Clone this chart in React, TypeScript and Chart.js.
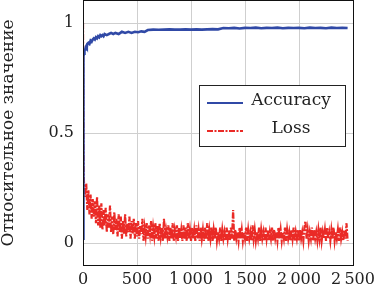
import React, { useEffect, useRef } from "react";
import { Chart, registerables } from "chart.js";
Chart.register(...registerables);

const SERIES_NAMES = ["Accuracy", "Loss"];
const Y_TITLE = "Относительное значение";
const X_TICKS = [0, 500, 1000, 1500, 2000, 2500];
const X_TICK_LABELS = ["0", "500", "1\u2009000", "1\u2009500", "2\u2009000", "2\u2009500"];
const Y_TICKS = [0, 0.5, 1];
const Y_TICK_LABELS = ["0", "0.5", "1"];

const ACC_ITER = [
  0, 1, 2, 3, 4, 5, 6, 8, 10, 12, 15, 20, 25, 30, 35, 40, 50, 60, 70, 80, 90, 100,
  110, 120, 130, 140, 150, 160, 170, 180, 190, 200, 220, 240, 260, 280, 300, 330, 360, 390,
  420, 450, 480, 510, 540, 570, 600, 650, 700, 750, 800, 850, 900, 950, 1000, 1050, 1100,
  1150, 1200, 1250, 1300, 1350, 1400, 1450, 1500, 1550, 1600, 1650, 1700, 1750, 1800, 1850,
  1900, 1950, 2000, 2050, 2100, 2150, 2200, 2250, 2300, 2350, 2400, 2450,
];
const ACC = [
  0.02, 0.3, 0.55, 0.68, 0.76, 0.8, 0.83, 0.85, 0.86, 0.87, 0.875, 0.88, 0.89, 0.895, 0.89, 0.905, 0.91, 0.905, 0.92, 0.915, 0.925, 0.93,
  0.925, 0.935, 0.93, 0.94, 0.935, 0.945, 0.94, 0.945, 0.94, 0.95, 0.945, 0.95, 0.955, 0.95, 0.955, 0.95, 0.96, 0.955,
  0.96, 0.955, 0.96, 0.958, 0.962, 0.96, 0.968, 0.97, 0.969, 0.97, 0.971, 0.97, 0.97, 0.971, 0.97, 0.971, 0.97,
  0.971, 0.972, 0.971, 0.977, 0.976, 0.978, 0.975, 0.978, 0.977, 0.979, 0.976, 0.978, 0.977, 0.979, 0.976,
  0.978, 0.977, 0.978, 0.976, 0.979, 0.977, 0.978, 0.976, 0.979, 0.977, 0.978, 0.977,
];

const LOSS_ITER = [
  0, 2, 4, 6, 8,
  10, 20, 30, 40, 50, 60, 70, 80, 90, 100,
  110, 120, 130, 140, 150, 160, 170, 180, 190, 200,
  210, 220, 230, 240, 250, 260, 270, 280, 290, 300,
  310, 320, 330, 340, 350, 360, 370, 380, 390, 400,
  410, 420, 430, 440, 450, 460, 470, 480, 490, 500,
  510, 520, 530, 540, 550, 560, 570, 580, 590, 600,
  610, 620, 630, 640, 650, 660, 670, 680, 690, 700,
  710, 720, 730, 740, 750, 760, 770, 780, 790, 800,
  810, 820, 830, 840, 850, 860, 870, 880, 890, 900,
  910, 920, 930, 940, 950, 960, 970, 980, 990, 1000,
  1010, 1020, 1030, 1040, 1050, 1060, 1070, 1080, 1090, 1100,
  1110, 1120, 1130, 1140, 1150, 1160, 1170, 1180, 1190, 1200,
  1210, 1220, 1230, 1240, 1250, 1260, 1270, 1280, 1290, 1300,
  1310, 1320, 1330, 1340, 1350, 1360, 1370, 1380, 1390, 1400,
  1410, 1420, 1430, 1440, 1450, 1460, 1470, 1480, 1490, 1500,
  1510, 1520, 1530, 1540, 1550, 1560, 1570, 1580, 1590, 1600,
  1610, 1620, 1630, 1640, 1650, 1660, 1670, 1680, 1690, 1700,
  1710, 1720, 1730, 1740, 1750, 1760, 1770, 1780, 1790, 1800,
  1810, 1820, 1830, 1840, 1850, 1860, 1870, 1880, 1890, 1900,
  1910, 1920, 1930, 1940, 1950, 1960, 1970, 1980, 1990, 2000,
  2010, 2020, 2030, 2040, 2050, 2060, 2070, 2080, 2090, 2100,
  2110, 2120, 2130, 2140, 2150, 2160, 2170, 2180, 2190, 2200,
  2210, 2220, 2230, 2240, 2250, 2260, 2270, 2280, 2290, 2300,
  2310, 2320, 2330, 2340, 2350, 2360, 2370, 2380, 2390, 2400,
  2410, 2420, 2430, 2440, 2450,
];
const LOSS = [
  1.0, 0.72, 0.5, 0.36, 0.29,
  0.26, 0.21, 0.27, 0.15, 0.24, 0.13, 0.22, 0.11, 0.2, 0.12,
  0.19, 0.09, 0.21, 0.08, 0.17, 0.07, 0.18, 0.06, 0.15, 0.08,
  0.16, 0.05, 0.13, 0.07, 0.17, 0.05, 0.12, 0.04, 0.14, 0.06,
  0.11, 0.03, 0.13, 0.05, 0.12, 0.02, 0.1, 0.04, 0.13, 0.03,
  0.09, 0.05, 0.12, 0.02, 0.1, 0.04, 0.11, 0.02, 0.09, 0.03,
  0.1, 0.02, 0.08, 0.04, 0.11, 0.01, 0.07, 0.03, 0.09, 0.02,
  0.08, 0.04, 0.1, 0.01, 0.07, 0.03, 0.09, 0.02, 0.08, 0.01,
  0.09, 0.03, 0.07, 0.01, 0.11, 0.02, 0.06, 0.03, 0.08, 0.01,
  0.07, 0.02, 0.09, 0.01, 0.06, 0.03, 0.08, 0.01, 0.07, 0.02,
  0.06, 0.01, 0.08, 0.02, 0.07, 0.01, 0.09, 0.02, 0.06, 0.01,
  0.07, 0.02, 0.06, 0.01, 0.08, 0.02, 0.06, 0.01, 0.07, 0.02,
  0.06, 0.01, 0.07, 0.02, 0.09, 0.01, 0.06, 0.02, 0.07, 0.01,
  0.06, 0.02, 0.07, 0.01, 0.05, 0.02, 0.07, 0.01, 0.06, 0.02,
  0.05, 0.01, 0.07, 0.02, 0.06, 0.01, 0.07, 0.02, 0.15, 0.01,
  0.06, 0.02, 0.05, 0.01, 0.07, 0.02, 0.06, 0.01, 0.05, 0.02,
  0.07, 0.01, 0.06, 0.02, 0.05, 0.01, 0.08, 0.02, 0.06, 0.01,
  0.05, 0.02, 0.07, 0.01, 0.06, 0.02, 0.05, 0.01, 0.07, 0.02,
  0.06, 0.01, 0.05, 0.02, 0.07, 0.01, 0.06, 0.02, 0.05, 0.01,
  0.07, 0.02, 0.06, 0.01, 0.05, 0.02, 0.07, 0.01, 0.06, 0.02,
  0.05, 0.01, 0.06, 0.02, 0.07, 0.01, 0.05, 0.02, 0.06, 0.01,
  0.06, 0.02, 0.05, 0.01, 0.07, 0.1, 0.02, 0.06, 0.01, 0.05,
  0.02, 0.07, 0.01, 0.06, 0.02, 0.05, 0.01, 0.06, 0.02, 0.07,
  0.01, 0.05, 0.02, 0.06, 0.01, 0.07, 0.02, 0.05, 0.01, 0.06,
  0.02, 0.07, 0.01, 0.05, 0.02, 0.06, 0.01, 0.07, 0.02, 0.05,
  0.01, 0.06, 0.02, 0.09, 0.01,
];

const BLUE = "#3049a6";
const RED = "#ea2a26";
const FONT = '"DejaVu Serif", serif';

const framePlugin = {
  id: "frame",
  afterDatasetsDraw(chart: any) {
    const { ctx, chartArea: a } = chart;
    ctx.save();
    ctx.strokeStyle = "#111";
    ctx.lineWidth = 1;
    ctx.strokeRect(Math.round(a.left) + 0.5, Math.round(a.top) - 0.5, Math.round(a.right - a.left), Math.round(a.bottom - a.top) + 1);
    ctx.restore();
  },
};

const legendPlugin = {
  id: "innerLegend",
  afterDraw(chart: any) {
    const { ctx } = chart;
    const x0 = 199, y0 = 85, w = 146, h = 61;
    const rows = [103, 131];
    ctx.save();
    ctx.fillStyle = "#fff";
    ctx.fillRect(x0, y0, w, h);
    ctx.strokeStyle = "#222";
    ctx.lineWidth = 1;
    ctx.strokeRect(x0 + 0.5, y0 + 0.5, w, h);
    chart.data.datasets.forEach((ds: any, i: number) => {
      const y = rows[i];
      ctx.beginPath();
      ctx.setLineDash(ds.borderDash || []);
      ctx.strokeStyle = ds.borderColor;
      ctx.lineWidth = i === 0 ? 2 : 1.8;
      ctx.moveTo(207, y);
      ctx.lineTo(243, y);
      ctx.stroke();
      ctx.setLineDash([]);
      ctx.fillStyle = "#222";
      ctx.font = `17px ${FONT}`;
      ctx.textAlign = "center";
      ctx.textBaseline = "middle";
      ctx.fillText(ds.label, 291, y - 2);
    });
    ctx.restore();
  },
};

export default function App() {
  const ref = useRef<HTMLCanvasElement>(null);
  useEffect(() => {
    if (!ref.current) return;
    const chart = new Chart(ref.current, {
      type: "line",
      data: {
        datasets: [
          {
            label: SERIES_NAMES[0],
            data: ACC_ITER.map((x, i) => ({ x, y: ACC[i] })),
            borderColor: BLUE,
            borderWidth: 2.6,
            pointRadius: 0,
            tension: 0,
            fill: false,
          },
          {
            label: SERIES_NAMES[1],
            data: LOSS_ITER.map((x, i) => ({ x, y: LOSS[i] })),
            borderColor: RED,
            borderWidth: 2.2,
            borderDash: [6, 1.5, 2, 1.5],
            pointRadius: 0,
            tension: 0,
            fill: false,
          },
        ],
      },
      options: {
        animation: false,
        responsive: false,
        devicePixelRatio: 1,
        layout: { padding: { left: 0, top: 1, right: 23, bottom: 0 } },
        plugins: { legend: { display: false }, tooltip: { enabled: false } },
        scales: {
          x: {
            type: "linear",
            min: 0,
            max: 2500,
            afterBuildTicks: (s: any) => {
              s.ticks = X_TICKS.map((v) => ({ value: v }));
            },
            afterFit: (s: any) => {
              s.height = 23;
              s.paddingLeft = 0;
              s.paddingRight = 0;
            },
            ticks: {
              autoSkip: false,
              maxRotation: 0,
              padding: 5,
              color: "#222",
              font: { family: FONT, size: 16 },
              callback: (v: any) => {
                const i = X_TICKS.indexOf(Number(v));
                return i >= 0 ? X_TICK_LABELS[i] : "";
              },
            },
            grid: { color: "#cfcfcf", lineWidth: 1, drawTicks: false },
            border: { display: false },
          },
          y: {
            type: "linear",
            min: -0.1,
            max: 1.1,
            afterBuildTicks: (s: any) => {
              s.ticks = Y_TICKS.map((v) => ({ value: v }));
            },
            afterFit: (s: any) => {
              s.width = 83;
              s.paddingTop = 0;
              s.paddingBottom = 0;
            },
            ticks: {
              padding: 9,
              color: "#222",
              font: { family: FONT, size: 16 },
              callback: (v: any) => {
                const i = Y_TICKS.indexOf(Number(v));
                return i >= 0 ? Y_TICK_LABELS[i] : "";
              },
            },
            grid: { color: "#cfcfcf", lineWidth: 1, drawTicks: false },
            border: { display: false },
            title: {
              display: true,
              text: Y_TITLE,
              color: "#222",
              font: { family: FONT, size: 17, lineHeight: 1 },
              padding: { top: 0, bottom: 0 },
            },
          },
        },
      },
      plugins: [framePlugin, legendPlugin],
    });
    return () => chart.destroy();
  }, []);
  return (
    <div style={{ position: "absolute", left: 0, top: 0, width: 376, height: 288 }}>
      <canvas ref={ref} width={376} height={288} />
    </div>
  );
}
